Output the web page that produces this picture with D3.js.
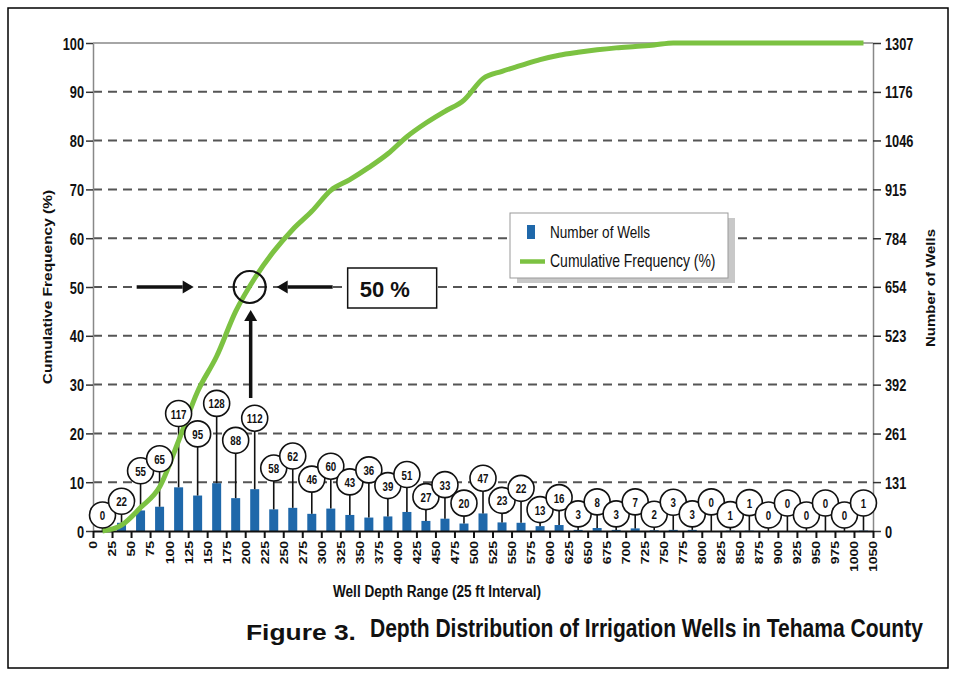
<!DOCTYPE html>
<html>
<head>
<meta charset="utf-8">
<script src="https://cdn.jsdelivr.net/npm/d3@7"></script>
<style>
body { margin: 0; background: #fff; }
svg { display: block; }
</style>
</head>
<body>
<svg id="chart" width="956" height="677"></svg>
<script>
// Data
var depthTicks = ["0","25","50","75","100","125","150","175","200","225","250","275","300","325",
  "350","375","400","425","450","475","500","525","550","575","600","625","650","675","700",
  "725","750","775","800","825","850","875","900","925","950","975","1000","1050"];

var wellCounts = [0,22,55,65,117,95,128,88,112,58,62,46,60,43,36,39,51,27,33,20,47,
  23,22,13,16,3,8,3,7,2,3,3,0,1,1,0,0,0,0,0,1];

var cumulativePct = [0,1.2,4.8,9,18.5,28.6,35.8,45,51.8,57.3,61.8,65.5,69.8,72,74.5,77.3,
  80.8,83.6,86,88.3,92.7,94.2,95.4,96.6,97.5,98.1,98.6,99,99.3,99.6,100,100,100,100,100,
  100,100,100,100,100,100];

var pctTicks = [0,10,20,30,40,50,60,70,80,90,100];
var wellTicks = [0,131,261,392,523,654,784,915,1046,1176,1307];

var FONT = "'Liberation Sans', Arial, Helvetica, sans-serif";
var BLUE = "#1f68aa", GREEN = "#7cc242";

var svg = d3.select("#chart").attr("font-family", FONT);

var margin = {top: 43, right: 83, bottom: 146, left: 93},
  width = 956 - margin.left - margin.right,
  height = 677 - margin.top - margin.bottom;

// scales
var x = d3.scalePoint().domain(depthTicks).range([margin.left, margin.left + width]);
var step = x.step();
var barX = function(i) { return x(depthTicks[i]) + step / 2; };
var yPct = d3.scaleLinear().domain([0, 100]).range([margin.top + height, margin.top]);
var yWells = d3.scaleLinear().domain([0, 1307]).range([margin.top + height, margin.top]);

// outer frame
svg.append("rect")
  .attr("x", 8).attr("y", 8).attr("width", 940).attr("height", 660)
  .attr("fill", "none").attr("stroke", "#000").attr("stroke-width", 1.5);

// dashed gridlines
svg.append("g").selectAll("line")
  .data(pctTicks.filter(function(d) { return d > 0 && d < 100; }))
  .enter().append("line")
  .attr("x1", margin.left).attr("x2", margin.left + width)
  .attr("y1", function(d) { return yPct(d); })
  .attr("y2", function(d) { return yPct(d); })
  .attr("stroke", "#555").attr("stroke-width", 2).attr("stroke-dasharray", "9,6");

// top border
svg.append("line")
  .attr("x1", margin.left).attr("x2", margin.left + width)
  .attr("y1", yPct(100)).attr("y2", yPct(100))
  .attr("stroke", "#888").attr("stroke-width", 1.5);

// left axis
var gL = svg.append("g").attr("transform", "translate(" + margin.left + ",0)")
  .call(d3.axisLeft(yPct).tickValues(pctTicks).tickSize(7).tickSizeOuter(0));
gL.attr("font-family", FONT).attr("font-size", 16);
gL.select(".domain").attr("stroke", "#888").attr("stroke-width", 1.5);
gL.selectAll(".tick line").attr("stroke", "#333").attr("stroke-width", 1.5);
gL.selectAll(".tick text").attr("x", null).attr("dy", null)
  .attr("transform", "translate(-9,6) scale(0.8,1)")
  .attr("font-weight", "bold").attr("fill", "#111");

// right axis
var gR = svg.append("g").attr("transform", "translate(" + (margin.left + width) + ",0)")
  .call(d3.axisRight(yWells).tickValues(wellTicks).tickFormat(d3.format("d"))
    .tickSize(8).tickSizeOuter(0));
gR.attr("font-family", FONT).attr("font-size", 16);
gR.select(".domain").attr("stroke", "#888").attr("stroke-width", 1.5);
gR.selectAll(".tick line").attr("stroke", "#333").attr("stroke-width", 1.5);
gR.selectAll(".tick text").attr("x", null).attr("dy", null)
  .attr("transform", "translate(12,6) scale(0.8,1)")
  .attr("font-weight", "bold").attr("fill", "#111");

// bars
svg.append("g").selectAll("rect")
  .data(wellCounts)
  .enter().append("rect")
  .attr("x", function(d, i) { return barX(i) - 4.5; })
  .attr("width", 9)
  .attr("y", function(d) { return yWells(d); })
  .attr("height", function(d) { return yWells(0) - yWells(d); })
  .attr("fill", BLUE);

// bottom axis
var gB = svg.append("g").attr("transform", "translate(0," + (margin.top + height) + ")")
  .call(d3.axisBottom(x).tickSize(7).tickSizeOuter(0));
gB.attr("font-family", FONT).attr("font-size", 14);
gB.select(".domain").attr("stroke", "#111").attr("stroke-width", 2);
gB.selectAll(".tick line").attr("stroke", "#111").attr("stroke-width", 2);
gB.selectAll(".tick text").attr("y", null).attr("dy", "0.35em")
  .attr("text-anchor", "end")
  .attr("transform", "translate(0,10) scale(0.8,1) rotate(-90)")
  .attr("font-weight", "bold").attr("fill", "#111");

// label placement for the count callouts: lift with value, step up when crowding the neighbour
var R = 13;
var labelY = [];
wellCounts.forEach(function(v, i) {
  var want = yWells(v) - 16 - 0.55 * Math.max(0, v - 12);
  if (i > 0 && Math.abs(want - labelY[i - 1]) < 10) want = labelY[i - 1] - 12;
  labelY.push(want);
});

// stems
svg.append("g").selectAll("line")
  .data(wellCounts)
  .enter().append("line")
  .attr("x1", function(d, i) { return barX(i); })
  .attr("x2", function(d, i) { return barX(i); })
  .attr("y1", function(d, i) { return labelY[i] + R; })
  .attr("y2", function(d) { return yWells(d); })
  .attr("stroke", "#111").attr("stroke-width", 1.6);

// cumulative frequency line
var line = d3.line()
  .x(function(d, i) { return barX(i); })
  .y(function(d) { return yPct(d); })
  .curve(d3.curveMonotoneX);

svg.append("path")
  .datum(cumulativePct)
  .attr("d", line)
  .attr("fill", "none")
  .attr("stroke", GREEN)
  .attr("stroke-width", 5)
  .attr("stroke-linejoin", "round");

// callout circles
var lab = svg.append("g").selectAll("g")
  .data(wellCounts)
  .enter().append("g")
  .attr("transform", function(d, i) { return "translate(" + barX(i) + "," + labelY[i] + ")"; });
lab.append("circle")
  .attr("r", R).attr("fill", "#fff").attr("stroke", "#111").attr("stroke-width", 1.6);
lab.append("text")
  .attr("text-anchor", "middle")
  .attr("transform", "translate(0,5) scale(0.72,1)")
  .attr("font-size", 13.5).attr("font-weight", "bold").attr("fill", "#111")
  .text(function(d) { return d; });

// axis titles
svg.append("text")
  .attr("transform", "translate(52," + yPct(50) + ") scale(0.8,1) rotate(-90)")
  .attr("text-anchor", "middle").attr("font-size", 15.5).attr("font-weight", "bold")
  .attr("fill", "#111")
  .text("Cumulative Frequency (%)");

svg.append("text")
  .attr("transform", "translate(935," + (yPct(50) + 1) + ") scale(0.8,1) rotate(-90)")
  .attr("text-anchor", "middle").attr("font-size", 15).attr("font-weight", "bold")
  .attr("fill", "#111")
  .text("Number of Wells");

svg.append("text")
  .attr("transform", "translate(437,597) scale(0.8,1)")
  .attr("text-anchor", "middle").attr("font-size", 17).attr("font-weight", "bold")
  .attr("fill", "#111")
  .text("Well Depth Range (25 ft Interval)");

// figure caption
svg.append("text")
  .attr("transform", "translate(246,640) scale(1.2,1)")
  .attr("font-size", 22).attr("font-weight", "bold").attr("fill", "#111")
  .text("Figure 3.");
svg.append("text")
  .attr("transform", "translate(370,637) scale(0.8,1)")
  .attr("font-size", 26.3).attr("font-weight", "bold").attr("fill", "#111")
  .text("Depth Distribution of Irrigation Wells in Tehama County");

// legend
var lg = svg.append("g").attr("transform", "translate(510,213)");
lg.append("rect").attr("x", 7).attr("y", 5).attr("width", 218).attr("height", 65).attr("fill", "#c8c8c8");
lg.append("rect").attr("width", 218).attr("height", 65)
  .attr("fill", "#fff").attr("stroke", "#999").attr("stroke-width", 1);
lg.append("rect").attr("x", 17).attr("y", 12).attr("width", 8).attr("height", 14).attr("fill", BLUE);
lg.append("line").attr("x1", 10).attr("x2", 35).attr("y1", 48.5).attr("y2", 48.5)
  .attr("stroke", GREEN).attr("stroke-width", 4.5);
lg.append("text").attr("transform", "translate(40,25) scale(0.8,1)")
  .attr("font-size", 17).attr("fill", "#111").text("Number of Wells");
lg.append("text").attr("transform", "translate(40,54) scale(0.8,1)")
  .attr("font-size", 17.5).attr("fill", "#111").text("Cumulative Frequency (%)");

// 50% annotation: find where the cumulative line crosses 50
var k = cumulativePct.findIndex(function(d) { return d >= 50; });
var t = (50 - cumulativePct[k - 1]) / (cumulativePct[k] - cumulativePct[k - 1]);
var cx = barX(k - 1) + t * step, cy = yPct(50);

function arrow(x1, y1, x2, y2) {
  var a = Math.atan2(y2 - y1, x2 - x1), hl = 11, hw = 6.5;
  var bx = x2 - hl * Math.cos(a), by = y2 - hl * Math.sin(a);
  svg.append("line").attr("x1", x1).attr("y1", y1).attr("x2", bx).attr("y2", by)
    .attr("stroke", "#111").attr("stroke-width", 3.5);
  svg.append("path")
    .attr("d", "M" + x2 + "," + y2 +
      "L" + (bx + hw * Math.sin(a)) + "," + (by - hw * Math.cos(a)) +
      "L" + (bx - hw * Math.sin(a)) + "," + (by + hw * Math.cos(a)) + "Z")
    .attr("fill", "#111");
}

arrow(cx - 113, cy, cx - 56, cy);
arrow(cx + 83, cy, cx + 27, cy);
arrow(cx + 1, cy + 111, cx + 1, cy + 23);

svg.append("circle").attr("cx", cx).attr("cy", cy).attr("r", 16)
  .attr("fill", "none").attr("stroke", "#111").attr("stroke-width", 2.2);

svg.append("rect").attr("x", cx + 98).attr("y", cy - 19).attr("width", 89).attr("height", 40)
  .attr("fill", "#fff").attr("stroke", "#111").attr("stroke-width", 1.5);
svg.append("text").attr("x", cx + 110).attr("y", cy + 10)
  .attr("font-size", 22).attr("font-weight", "bold").attr("fill", "#111")
  .text("50 %");
</script>
</body>
</html>
